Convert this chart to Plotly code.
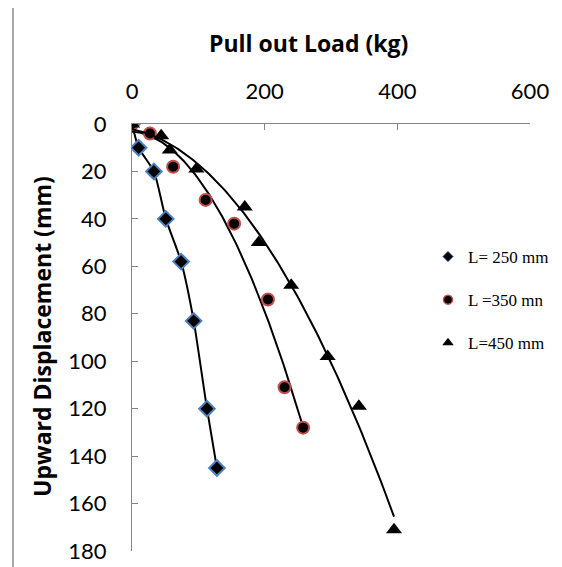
import numpy as np
import plotly.graph_objects as go

# ---- data ----
load_250 = [0, 10, 33, 51, 74, 93, 113, 128]
disp_250 = [0, 10, 20, 40, 58, 83, 120, 145]

load_350 = [0, 27, 62, 111, 154, 205, 230, 258]
disp_350 = [0, 4, 18, 32, 42, 74, 111, 128]

load_450 = [0, 44, 57, 97, 170, 191, 240, 295, 342, 395]
disp_450 = [0, 5, 11, 19, 35, 50, 68, 98, 119, 171]

series_names = ["L= 250 mm", "L =350 mn", "L=450 mm"]
x_ticks = [0, 200, 400, 600]
y_ticks = [0, 20, 40, 60, 80, 100, 120, 140, 160, 180]

BLUE = "#4F81BD"
RED = "#C0504D"
GRAY = "#868686"

# page body has an 8px default margin -> figure is 8px smaller than the window
W, H = 554, 559
PL, PR, PT, PB = 124, 32, 116, 16          # plot area in figure pixels
PW, PH = W - PL - PR, H - PT - PB           # 398 x 427


def px_x(ref_x):
    """reference-picture x pixel -> paper fraction"""
    return (ref_x - 8 - PL) / PW


def px_y(ref_y):
    """reference-picture y pixel -> paper fraction"""
    return (PT + PH - (ref_y - 8)) / PH


def poly_trend(xs, ys, deg=2, n=120):
    xs = np.asarray(xs, float)
    ys = np.asarray(ys, float)
    c = np.polyfit(xs, ys, deg)
    xx = np.linspace(xs.min(), xs.max(), n)
    return xx, np.polyval(c, xx)


fig = go.Figure()

# L = 250 : smoothed line through the points
fig.add_trace(go.Scatter(
    x=load_250, y=disp_250, mode="lines+markers",
    line=dict(color="black", width=2, shape="spline", smoothing=0.6),
    marker=dict(symbol="diamond", size=12, color="black",
                line=dict(color=BLUE, width=2)),
    showlegend=False, name=series_names[0]))

# L = 350 : polynomial trendline + markers
tx, ty = poly_trend(load_350, disp_350)
fig.add_trace(go.Scatter(x=tx, y=ty, mode="lines",
                         line=dict(color="black", width=2),
                         showlegend=False, hoverinfo="skip"))
fig.add_trace(go.Scatter(
    x=load_350, y=disp_350, mode="markers",
    marker=dict(symbol="circle", size=12, color="black",
                line=dict(color=RED, width=2)),
    showlegend=False, name=series_names[1]))

# L = 450 : polynomial trendline + markers
tx, ty = poly_trend(load_450, disp_450)
fig.add_trace(go.Scatter(x=tx, y=ty, mode="lines",
                         line=dict(color="black", width=2),
                         showlegend=False, hoverinfo="skip"))
fig.add_trace(go.Scatter(
    x=load_450, y=disp_450, mode="markers",
    marker=dict(symbol="triangle-up", size=14, color="black"),
    showlegend=False, name=series_names[2]))

# legend-only entries
legend_markers = [
    dict(symbol="diamond", size=8, color="black", line=dict(color=BLUE, width=1)),
    dict(symbol="circle", size=9, color="black", line=dict(color=RED, width=1.5)),
    dict(symbol="triangle-up", size=10, color="black"),
]
for i, (nm, mk) in enumerate(zip(series_names, legend_markers)):
    fig.add_trace(go.Scatter(x=[None], y=[None], mode="markers", marker=mk,
                             name=nm, legendgroup=f"g{i}", showlegend=True))

fig.update_layout(
    width=W, height=H,
    margin=dict(l=PL, r=PR, t=PT, b=PB, autoexpand=False),
    paper_bgcolor="white", plot_bgcolor="white",
    font=dict(family="Lato", size=22, color="black"),
    showlegend=True,
    legend=dict(x=px_x(428), xanchor="left",
                y=px_y(239), yanchor="top",
                font=dict(family="Liberation Serif", size=17, color="black"),
                tracegroupgap=18, traceorder="grouped",
                bgcolor="rgba(0,0,0,0)"),
    xaxis=dict(side="top", range=[0, 600], tickvals=x_ticks, automargin=False,
               ticks="inside", ticklen=6, tickcolor=GRAY, tickwidth=1,
               showline=True, linecolor=GRAY, linewidth=1,
               showgrid=False, zeroline=False, ticklabelstandoff=15,
               tickfont=dict(family="Lato", size=22)),
    yaxis=dict(range=[180, 0], tickvals=y_ticks, automargin=False,
               ticks="inside", ticklen=6, tickcolor=GRAY, tickwidth=1,
               showline=True, linecolor=GRAY, linewidth=1,
               showgrid=False, zeroline=False, ticklabelstandoff=20,
               tickfont=dict(family="Lato", size=22)),
    annotations=[
        dict(text="<b>Pull out Load (kg)</b>", xref="paper", yref="paper",
             x=px_x(308), y=px_y(43),
             xanchor="center", yanchor="middle", showarrow=False,
             font=dict(family="Open Sans", size=23, color="black")),
        dict(text="<b>Upward Displacement (mm)</b>", xref="paper", yref="paper",
             x=px_x(42), y=px_y(337), textangle=-90,
             xanchor="center", yanchor="middle", showarrow=False,
             font=dict(family="Open Sans", size=23, color="black")),
    ],
    shapes=[
        dict(type="rect", xref="paper", yref="paper",
             x0=px_x(13), x1=px_x(600),
             y0=px_y(600), y1=px_y(6),
             line=dict(color="#8C8C8C", width=1.5), fillcolor="rgba(0,0,0,0)",
             layer="below"),
    ],
)

fig.write_html("out.html")
